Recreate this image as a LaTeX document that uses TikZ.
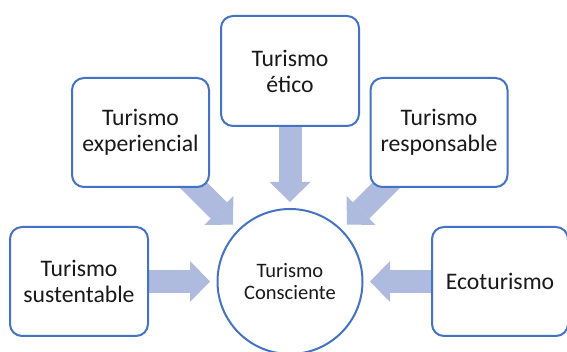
\documentclass[tikz,border=0pt]{standalone}
\usepackage{fontspec}
\setmainfont{Carlito}
\usetikzlibrary{positioning,shapes,arrows.meta,backgrounds}

\definecolor{bordeazul}{HTML}{4472C4}
\definecolor{flechaazul}{RGB}{174,186,222}

\tikzset{
    caja/.style={draw=bordeazul, line width=2pt, rounded corners=12pt, fill=white,
        minimum width=137pt, minimum height=109pt, align=center, text=black!90,
        font=\fontsize{23.7}{26}\selectfont},
    centro/.style={circle, draw=bordeazul, line width=2pt, fill=white,
        minimum size=145pt, align=center, text=black!90,
        font=\fontsize{20.5}{22.7}\selectfont},
    flecha/.style={draw=flechaazul, line width=23pt,
        -{Triangle[width=41pt,length=20pt,line width=0pt]}}
}

\begin{document}
\begin{tikzpicture}[x=1pt,y=1pt]
    \useasboundingbox (0,0) rectangle (567,352);

    % Central concept
    \node[centro] (consciente) at (290,70.5) {Turismo\\Consciente};

    % Surrounding boxes
    \node[caja, minimum width=138pt, minimum height=110pt] (etico) at (290,281) {Turismo\\ético};
    \node[caja] (experiencial) at (140.5,219.5) {Turismo\\experiencial};
    \node[caja] (responsable) at (439,219.5) {Turismo\\responsable};
    \node[caja, minimum width=138pt] (sustentable) at (79,70.5) {Turismo\\sustentable};
    \node[caja, minimum width=136pt] (ecoturismo) at (500,70.5) {Ecoturismo};

    % Arrows (behind the boxes)
    \begin{scope}[on background layer]
        \draw[flecha, shorten >=6pt] (etico.center) -- (consciente.north);
        \draw[flecha, shorten >=7pt] (experiencial.center) -- (consciente.135);
        \draw[flecha, shorten >=7pt] (responsable.center) -- (consciente.45);
        \draw[flecha, shorten >=6.5pt] (sustentable.center) -- (consciente.west);
        \draw[flecha, shorten >=6.5pt] (ecoturismo.center) -- (consciente.east);
    \end{scope}
\end{tikzpicture}
\end{document}
